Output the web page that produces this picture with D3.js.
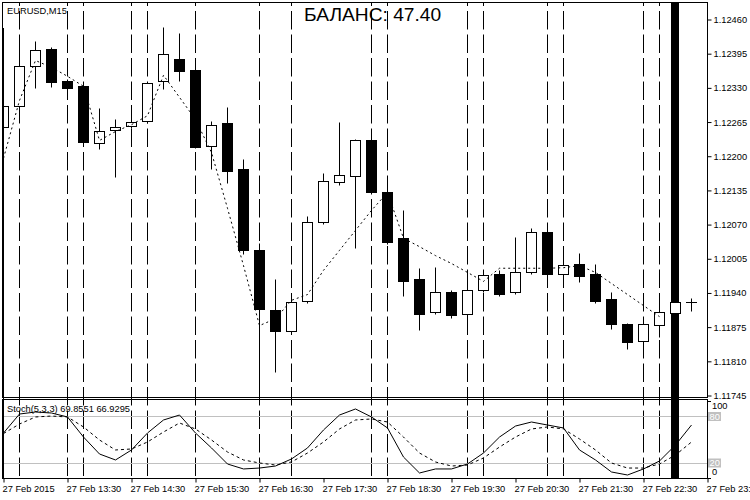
<!DOCTYPE html>
<html><head><meta charset="utf-8">
<script src="https://cdn.jsdelivr.net/npm/d3@7"></script>
<style>
html,body{margin:0;padding:0;background:#fff;}
svg{display:block;font-family:"Liberation Sans",Arial,sans-serif;}
</style></head>
<body><svg id="c" width="750" height="500"></svg>
<script>
const opens  = [1.12255,1.12295,1.12371,1.12403,1.12342,1.12333,1.12224,1.12249,1.12257,1.12266,1.12342,1.12384,1.12363,1.12219,1.12262,1.12175,1.12021,1.11907,1.11867,1.11924,1.12074,1.12150,1.12161,1.12230,1.12131,1.12044,1.11966,1.11903,1.11941,1.11899,1.11945,1.11975,1.11941,1.11979,1.12055,1.11975,1.11994,1.11975,1.11928,1.11880,1.11848,1.11878,1.11901,1.11922];
const highs  = [1.12302,1.12416,1.12418,1.12407,1.12346,1.12336,1.12291,1.12270,1.12268,1.12340,1.12445,1.12433,1.12367,1.12266,1.12293,1.12194,1.12034,1.11966,1.11926,1.12085,1.12167,1.12264,1.12232,1.12243,1.12135,1.12097,1.11987,1.11988,1.11945,1.11968,1.11979,1.11983,1.12045,1.12063,1.12059,1.11998,1.12015,1.11994,1.11941,1.11882,1.11884,1.11910,1.11926,1.11929];
const lows   = [1.12249,1.12287,1.12329,1.12331,1.12325,1.12222,1.12213,1.12160,1.12253,1.12262,1.12327,1.12342,1.12215,1.12175,1.12148,1.12013,1.11745,1.11789,1.11863,1.11920,1.12070,1.12144,1.12025,1.12127,1.12032,1.11933,1.11869,1.11899,1.11891,1.11893,1.11941,1.11933,1.11937,1.11975,1.11971,1.11971,1.11960,1.11920,1.11870,1.11832,1.11844,1.11855,1.11895,1.11905];
const closes = [1.12295,1.12371,1.12401,1.12340,1.12329,1.12226,1.12247,1.12255,1.12264,1.12338,1.12393,1.12361,1.12217,1.12258,1.12171,1.12021,1.11909,1.11867,1.11922,1.12074,1.12152,1.12163,1.12230,1.12131,1.12036,1.11962,1.11899,1.11941,1.11897,1.11945,1.11973,1.11937,1.11979,1.12055,1.11975,1.11992,1.11971,1.11924,1.11880,1.11846,1.11880,1.11903,1.11922,1.11922];
const maLine = [1.12196,1.12306,1.12382,1.12369,1.12352,1.12333,1.12230,1.12247,1.12260,1.12277,1.12354,1.12312,1.12270,1.12207,1.12101,1.11992,1.11878,1.11891,1.11926,1.11937,1.11983,1.12021,1.12059,1.12097,1.12131,1.12044,1.12028,1.12011,1.11996,1.11979,1.11962,1.11987,1.11987,1.11987,1.11987,1.11988,1.11992,1.11979,1.11958,1.11937,1.11916,1.11895];
const stochMain   = [58.7,83.2,85.8,84.5,79.4,53.5,31.6,23.9,36.8,58.7,75.5,81.9,58.7,39.4,18.7,12.3,13.5,16.1,25.2,39.4,62.6,81.9,89.7,79.4,65.2,27.7,7.1,12.3,12.3,18.7,32.9,53.5,67.7,72.9,69.0,65.2,36.8,23.9,8.4,4.5,12.3,22.6,43.2,69.0];
const stochSignal = [58.0,70.3,79.4,80.6,79.4,66.5,49.7,36.8,38.1,47.1,60.0,71.6,63.9,49.7,34.2,23.9,20.0,17.4,21.3,32.9,47.1,63.9,75.5,76.8,72.9,53.5,32.9,21.3,16.1,17.4,26.5,40.6,53.5,63.9,66.5,63.9,51.0,36.8,20.0,13.5,13.5,18.7,30.3,47.1];
const priceTicks = [1.11745,1.11810,1.11875,1.11940,1.12005,1.12070,1.12135,1.12200,1.12265,1.12330,1.12395,1.12460];
const timeIdx = [0,4,8,12,16,20,24,28,32,36,40,44];
const timeLabels = ["27 Feb 2015","27 Feb 13:30","27 Feb 14:30","27 Feb 15:30","27 Feb 16:30","27 Feb 17:30","27 Feb 18:30","27 Feb 19:30","27 Feb 20:30","27 Feb 21:30","27 Feb 22:30","27 Feb 23:30"];
const separators = [1,4,5,8,9,12,16,18,23,24,29,30,34,35,40,41];
const markerIdx = 42;
const stochLevels = [80,20];
const stochAxisLabels = [100,80,20,0];
const symbolTitle = "EURUSD,M15";
const balanceTitle = "БАЛАНС: 47.40";
const stochTitle = "Stoch(5,3,3) 69.8551 66.9295";

const svg = d3.select("#c");
const L = 2, R = 707, mainTop = 2, mainBot = 397, stTop = 399, stBot = 478;
const x = d3.scaleLinear().domain([0,44]).range([3.5,707.5]);
const y = d3.scaleLinear().domain([1.11745,1.12460]).range([395.5,19.5]);
const ys = d3.scaleLinear().domain([0,100]).range([478.5,401]);
const px = v => Math.round(v - 0.5) + 0.5;

svg.append("defs").append("clipPath").attr("id","mc").append("rect")
  .attr("x",L+1).attr("y",mainTop).attr("width",R-L-1).attr("height",mainBot-mainTop);
svg.select("defs").append("clipPath").attr("id","sc").append("rect")
  .attr("x",L+1).attr("y",stTop).attr("width",R-L-1).attr("height",stBot-stTop);

// separators
const sepG = svg.append("g").attr("stroke","#000").attr("stroke-width",1).attr("stroke-dasharray","18.5,5").attr("stroke-dashoffset",14.5);
separators.forEach(i => {
  sepG.append("line").attr("x1",x(i)).attr("x2",x(i)).attr("y1",mainTop).attr("y2",stBot);
});

// stoch levels
svg.append("g").selectAll("line").data(stochLevels).join("line")
  .attr("x1",L).attr("x2",R).attr("y1",d=>px(ys(d))).attr("y2",d=>px(ys(d)))
  .attr("stroke","#c0c0c0").attr("stroke-width",1);

// marker bar
svg.append("rect").attr("x",x(markerIdx)-4.5).attr("width",8).attr("y",mainTop).attr("height",stBot-mainTop).attr("fill","#000");

// candles
const cg = svg.append("g").attr("clip-path","url(#mc)");
opens.forEach((o,i) => {
  const c = closes[i], cx = x(i);
  cg.append("line").attr("x1",cx).attr("x2",cx).attr("y1",px(y(highs[i]))).attr("y2",px(y(lows[i])))
    .attr("stroke","#000").attr("stroke-width",1);
  const yo = px(y(o)), yc = px(y(c));
  if (Math.abs(yo-yc) < 1) {
    cg.append("line").attr("x1",cx-5.5).attr("x2",cx+5.5).attr("y1",yo).attr("y2",yo).attr("stroke","#000");
  } else {
    cg.append("rect").attr("x",cx-5).attr("width",10).attr("y",Math.min(yo,yc)).attr("height",Math.abs(yo-yc))
      .attr("fill", c >= o ? "#fff" : "#000").attr("stroke","#000").attr("stroke-width",1);
  }
});

// dotted MA line
cg.append("path").datum(maLine)
  .attr("d", d3.line().x((d,i)=>x(i)).y(d=>y(d)))
  .attr("fill","none").attr("stroke","#000").attr("stroke-width",1).attr("stroke-dasharray","2,3");

// stochastic lines
const sg = svg.append("g").attr("clip-path","url(#sc)");
sg.append("path").datum(stochSignal).attr("d", d3.line().x((d,i)=>x(i)).y(d=>ys(d)))
  .attr("fill","none").attr("stroke","#000").attr("stroke-width",1).attr("stroke-dasharray","3,3");
sg.append("path").datum(stochMain).attr("d", d3.line().x((d,i)=>x(i)).y(d=>ys(d)))
  .attr("fill","none").attr("stroke","#000").attr("stroke-width",1);
// re-cover with marker bar in stoch panel
svg.append("rect").attr("x",x(markerIdx)-4.5).attr("width",8).attr("y",stTop).attr("height",stBot-stTop).attr("fill","#000");

// frames
const fr = svg.append("g").attr("fill","none").attr("stroke","#000").attr("stroke-width",1);
fr.append("rect").attr("x",L+0.5).attr("y",mainTop+0.5).attr("width",R-L).attr("height",mainBot-mainTop);
fr.append("rect").attr("x",L+0.5).attr("y",stTop+0.5).attr("width",R-L).attr("height",stBot-stTop);
fr.append("line").attr("x1",L+1.5).attr("x2",L+1.5).attr("y1",28).attr("y2",stBot);

// price axis
const ay = svg.append("g").attr("transform",`translate(${R+0.5},0)`)
  .call(d3.axisRight(y).tickValues(priceTicks).tickSize(4).tickPadding(2).tickFormat(d=>d.toFixed(5)));
ay.select(".domain").remove();
ay.selectAll("text").attr("font-size",9.3).attr("font-family","'Liberation Sans',Arial,sans-serif").attr("fill","#000");
ay.selectAll("line").attr("stroke","#000");

// time axis
const ax = svg.append("g").attr("transform",`translate(0,${stBot+0.5})`)
  .call(d3.axisBottom(x).tickValues(timeIdx).tickSize(4).tickPadding(3).tickFormat((d,i)=>timeLabels[i]));
ax.select(".domain").remove();
ax.selectAll("text").attr("text-anchor","start").attr("x",-1.5).attr("font-size",9.3)
  .attr("font-family","'Liberation Sans',Arial,sans-serif").attr("fill","#000");
ax.selectAll("line").attr("stroke","#000");

// stoch axis
stochAxisLabels.forEach(v => {
  const cy = Math.max(405.5, Math.min(472, ys(v)));
  if (v === 80 || v === 20) {
    svg.append("rect").attr("x",708).attr("y",cy-4.5).attr("width",13).attr("height",9).attr("fill","#c0c0c0");
    svg.append("text").attr("x",709.5).attr("y",cy).attr("dy","0.35em").attr("font-size",9.3).attr("fill","#fff").text(v);
  } else {
    svg.append("line").attr("x1",R).attr("x2",R+4).attr("y1",px(ys(v))).attr("y2",px(ys(v))).attr("stroke","#000");
    svg.append("text").attr("x",712).attr("y",cy).attr("dy","0.35em").attr("font-size",9.3).attr("fill","#000").text(v);
  }
});

// titles
svg.append("text").attr("x",7).attr("y",14).attr("font-size",9.3).attr("fill","#000").text(symbolTitle);
svg.append("text").attr("x",304).attr("y",20.5).attr("font-size",19.2).attr("fill","#000").text(balanceTitle);
svg.append("text").attr("x",7).attr("y",412).attr("font-size",9.3).attr("fill","#000").text(stochTitle);
</script></body></html>
